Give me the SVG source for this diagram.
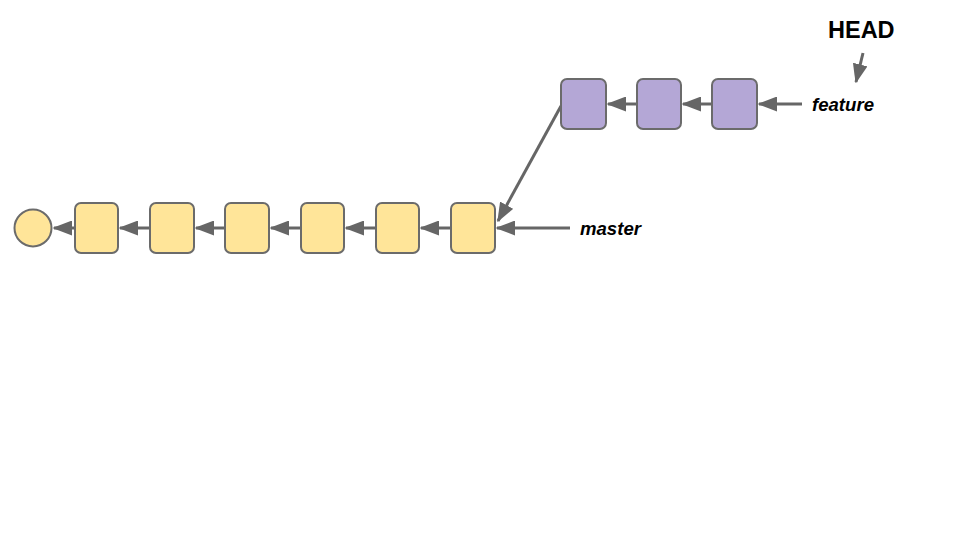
<svg xmlns="http://www.w3.org/2000/svg" width="960" height="540" viewBox="0 0 960 540">
<style>
.y{fill:#ffe599;stroke:#6b6b6b;stroke-width:2}
.p{fill:#b4a7d6;stroke:#6b6b6b;stroke-width:2}
.c{stroke:#666666;stroke-width:3;fill:none;marker-end:url(#ah)}
.lbl{font-family:"Liberation Sans",Arial,sans-serif;font-weight:bold;font-style:italic;font-size:18.6px;fill:#000}
.head{font-family:"Liberation Sans",Arial,sans-serif;font-weight:bold;font-size:23.5px;fill:#000}
</style>
<defs>
<marker id="ah" markerWidth="6.5" markerHeight="5" refX="6" refY="2.5" orient="auto" markerUnits="strokeWidth">
<path d="M0,0 L6.5,2.5 L0,5 Z" fill="#666666"/>
</marker>
</defs>
<rect width="960" height="540" fill="#ffffff"/>
<g id="connectors">
<line class="c" x1="75" y1="228" x2="54" y2="228"/>
<line class="c" x1="150" y1="228" x2="120" y2="228"/>
<line class="c" x1="225" y1="228" x2="196" y2="228"/>
<line class="c" x1="301" y1="228" x2="271" y2="228"/>
<line class="c" x1="376" y1="228" x2="346" y2="228"/>
<line class="c" x1="451" y1="228" x2="421" y2="228"/>
<line class="c" x1="570" y1="228" x2="497" y2="228"/>
<line class="c" x1="561" y1="106" x2="498" y2="221"/>
<line class="c" x1="637" y1="104" x2="608" y2="104"/>
<line class="c" x1="712" y1="104" x2="683" y2="104"/>
<line class="c" x1="802" y1="104" x2="759" y2="104"/>
<line class="c" x1="863" y1="53" x2="856" y2="82"/>
</g>
<g id="root"><circle class="y" cx="33" cy="228" r="18.5"/></g>
<g id="m1"><rect class="y" x="75" y="203" width="43" height="50" rx="6"/></g>
<g id="m2"><rect class="y" x="150" y="203" width="44" height="50" rx="6"/></g>
<g id="m3"><rect class="y" x="225" y="203" width="44" height="50" rx="6"/></g>
<g id="m4"><rect class="y" x="301" y="203" width="43" height="50" rx="6"/></g>
<g id="m5"><rect class="y" x="376" y="203" width="43" height="50" rx="6"/></g>
<g id="m6"><rect class="y" x="451" y="203" width="44" height="50" rx="6"/></g>
<g id="f1"><rect class="p" x="561" y="79" width="45" height="50" rx="6"/></g>
<g id="f2"><rect class="p" x="637" y="79" width="44" height="50" rx="6"/></g>
<g id="f3"><rect class="p" x="712" y="79" width="45" height="50" rx="6"/></g>
<g id="master"><text class="lbl" x="580" y="235">master</text></g>
<g id="feature"><text class="lbl" x="812" y="111">feature</text></g>
<g id="HEAD"><text class="head" x="828" y="38">HEAD</text></g>
</svg>
